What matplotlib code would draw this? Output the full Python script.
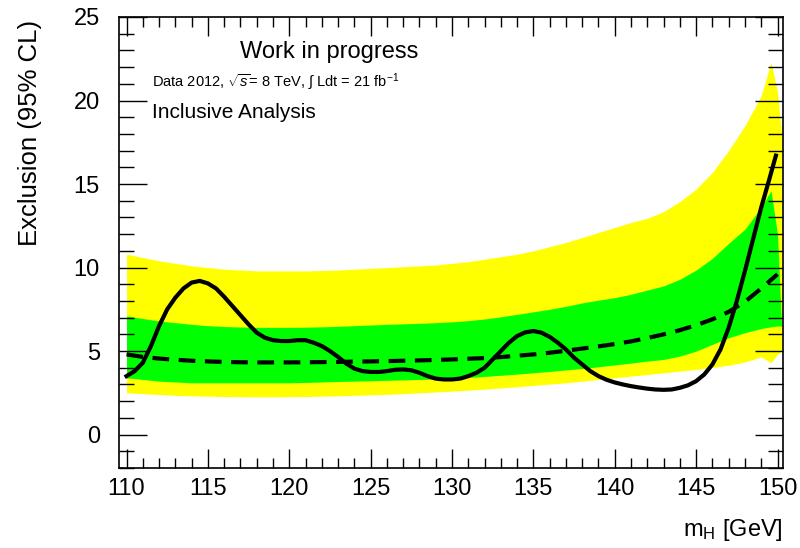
import numpy as np
import matplotlib
matplotlib.use('Agg')
import matplotlib.pyplot as plt
from matplotlib.ticker import MultipleLocator

plt.rcParams['font.family'] = ['Liberation Sans', 'DejaVu Sans']
plt.rcParams['mathtext.fontset'] = 'custom'
plt.rcParams['mathtext.rm'] = 'Liberation Sans'
plt.rcParams['mathtext.it'] = 'Liberation Sans:italic'

# band mass points (GeV)
mass_band = [110, 111, 112, 113, 114, 115, 116, 117, 118, 119, 120, 121, 122, 123,
             124, 125, 126, 127, 128, 129, 130, 131, 132, 133, 134, 135, 136, 137,
             138, 139, 140, 141, 142, 143, 144, 145, 146, 147, 148, 149, 149.6,
             150, 150.25]
yellow_up = [10.8, 10.6, 10.4, 10.25, 10.1, 10.0, 9.9, 9.85, 9.8, 9.8, 9.8, 9.8,
             9.82, 9.85, 9.9, 9.95, 10.0, 10.05, 10.1, 10.15, 10.25, 10.35, 10.5,
             10.65, 10.8, 11.0, 11.25, 11.5, 11.8, 12.1, 12.4, 12.7, 12.95, 13.35,
             13.95, 14.7, 15.7, 17.0, 18.5, 20.3, 22.3, 20.5, 18.0]
green_up = [7.1, 6.95, 6.8, 6.7, 6.6, 6.52, 6.47, 6.44, 6.42, 6.42, 6.42, 6.43,
            6.45, 6.48, 6.52, 6.56, 6.6, 6.63, 6.66, 6.7, 6.75, 6.82, 6.92, 7.05,
            7.2, 7.35, 7.5, 7.68, 7.88, 8.05, 8.2, 8.4, 8.65, 8.9, 9.3, 9.85,
            10.55, 11.45, 12.3, 13.6, 14.6, 12.0, 6.5]
green_dn = [3.4, 3.3, 3.2, 3.15, 3.1, 3.1, 3.1, 3.1, 3.1, 3.1, 3.1, 3.12, 3.15,
            3.18, 3.2, 3.22, 3.25, 3.27, 3.3, 3.33, 3.37, 3.42, 3.48, 3.55, 3.62,
            3.7, 3.78, 3.87, 3.96, 4.06, 4.17, 4.28, 4.4, 4.5, 4.7, 5.0, 5.4,
            5.8, 6.1, 6.35, 6.45, 6.5, 6.5]
yellow_dn = [2.5, 2.45, 2.4, 2.35, 2.32, 2.3, 2.28, 2.27, 2.26, 2.26, 2.27, 2.28,
             2.3, 2.32, 2.35, 2.38, 2.41, 2.45, 2.5, 2.55, 2.6, 2.66, 2.72, 2.79,
             2.86, 2.94, 3.02, 3.1, 3.2, 3.3, 3.4, 3.5, 3.6, 3.7, 3.8, 3.9, 4.02,
             4.15, 4.35, 4.65, 4.3, 4.8, 5.0]

mass = [110, 111, 112, 113, 114, 115, 116, 117, 118, 119, 120, 121, 122, 123, 124,
        125, 126, 127, 128, 129, 130, 131, 132, 133, 134, 135, 136, 137, 138, 139,
        140, 141, 142, 143, 144, 145, 146, 147, 148, 149, 150]
expected = [4.8, 4.65, 4.55, 4.48, 4.42, 4.38, 4.35, 4.33, 4.32, 4.32, 4.32, 4.33,
            4.34, 4.35, 4.37, 4.38, 4.40, 4.42, 4.44, 4.47, 4.50, 4.54, 4.58, 4.64,
            4.72, 4.80, 4.90, 5.02, 5.15, 5.28, 5.42, 5.58, 5.78, 6.00, 6.25, 6.55,
            6.90, 7.35, 7.95, 8.75, 9.6]

# observed limit, read every 0.5 GeV
mass_obs = [110, 110.5, 111, 111.5, 112, 112.5, 113, 113.5, 114, 114.5, 115, 115.5,
            116, 116.5, 117, 117.5, 118, 118.5, 119, 119.5, 120, 120.5, 121, 121.5,
            122, 122.5, 123, 123.5, 124, 124.5, 125, 125.5, 126, 126.5, 127, 127.5,
            128, 128.5, 129, 129.5, 130, 130.5, 131, 131.5, 132, 132.5, 133, 133.5,
            134, 134.5, 135, 135.5, 136, 136.5, 137, 137.5, 138, 138.5, 139, 139.5,
            140, 140.5, 141, 141.5, 142, 142.5, 143, 143.5, 144, 144.5, 145, 145.5,
            146, 146.5, 147, 147.5, 148, 148.5, 149, 149.5, 149.9]
observed = [3.5, 3.8, 4.3, 5.3, 6.5, 7.5, 8.2, 8.75, 9.1, 9.2, 9.05, 8.75,
            8.25, 7.7, 7.15, 6.6, 6.1, 5.8, 5.65, 5.6, 5.6, 5.65, 5.65, 5.5,
            5.3, 5.0, 4.65, 4.25, 3.95, 3.8, 3.75, 3.75, 3.8, 3.88, 3.9, 3.85,
            3.7, 3.5, 3.35, 3.3, 3.3, 3.35, 3.5, 3.7, 4.0, 4.5, 5.0, 5.5,
            5.9, 6.12, 6.2, 6.1, 5.85, 5.5, 5.1, 4.6, 4.2, 3.8, 3.5, 3.28,
            3.12, 3.0, 2.9, 2.82, 2.75, 2.7, 2.68, 2.7, 2.8, 2.95, 3.2, 3.6,
            4.2, 5.1, 6.4, 8.0, 9.8, 11.7, 13.6, 15.3, 16.7]

fig = plt.figure(figsize=(8, 5.48), dpi=100)
ax = fig.add_axes([0.149, 0.146, 0.830, 0.823])

ax.fill_between(mass_band, yellow_dn, yellow_up, color='#ffff00', lw=0)
ax.fill_between(mass_band, green_dn, green_up, color='#00ff00', lw=0)
ax.plot(mass, expected, color='black', lw=3, ls=(0, (4, 2.3)))
ax.plot(mass_obs, observed, color='black', lw=3, solid_joinstyle='round')

ax.set_xlim(109.55, 150.35)
ax.set_ylim(-2, 25)
ax.xaxis.set_major_locator(MultipleLocator(5))
ax.xaxis.set_minor_locator(MultipleLocator(1))
ax.yaxis.set_major_locator(MultipleLocator(5))
ax.yaxis.set_minor_locator(MultipleLocator(1))
ax.tick_params(which='both', direction='in', top=True, right=True,
               labelsize=17, width=1.0)
ax.tick_params(axis='x', which='major', length=14, pad=7)
ax.tick_params(axis='x', which='minor', length=7)
ax.tick_params(axis='y', which='major', length=20, pad=14)
ax.tick_params(axis='y', which='minor', length=11)
for s in ax.spines.values():
    s.set_linewidth(1.2)

ax.set_xlabel(r'm$_{\mathrm{H}}$ [GeV]', fontsize=17, loc='right')
ax.xaxis.set_label_coords(1.0, -0.108)
ax.set_ylabel('Exclusion (95% CL)', fontsize=18.5, loc='top')
ax.yaxis.set_label_coords(-0.116, 0.993)

ax.text(0.182, 0.922, 'Work in progress', transform=ax.transAxes,
        fontsize=17, va='center')
ax.text(0.049, 0.856, r'Data 2012, $\sqrt{s}$= 8 TeV, $\int$ Ldt = 21 fb$^{-1}$',
        transform=ax.transAxes, fontsize=10.5, va='center')
ax.text(0.049, 0.789, 'Inclusive Analysis', transform=ax.transAxes,
        fontsize=15, va='center')

fig.savefig('out.png', dpi=100)
